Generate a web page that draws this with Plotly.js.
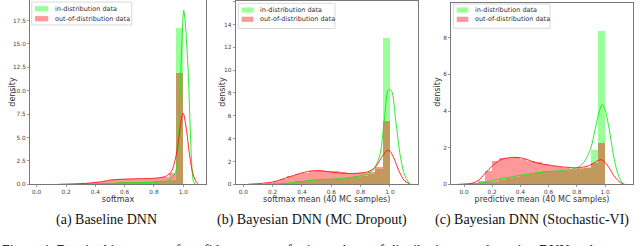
<!DOCTYPE html>
<html>
<head>
<meta charset="utf-8">
<script src="https://cdn.plot.ly/plotly-3.0.1.min.js"></script>
<style>html,body{margin:0;padding:0;background:#fff;}#chart{width:640px;height:246px;}</style>
</head>
<body>
<div id="chart"></div>
<script>
// ---------------- DATA ----------------
const seriesNames = ["in-distribution data", "out-of-distribution data"];
const xTitles = ["softmax", "softmax mean (40 MC samples)", "predictive mean (40 MC samples)"];
const yTitle = "density";
const captions = ["(a) Baseline DNN", "(b) Bayesian DNN (MC Dropout)", "(c) Bayesian DNN (Stochastic-VI)"];
const figureText = "Figure 4: Density histograms of confidence scores for in- and out-of-distribution samples using DNN and";

// (a) Baseline DNN - histogram bin centres and densities
const bins1 = [0.175,0.225,0.275,0.325,0.375,0.425,0.475,0.525,0.575,0.625,0.675,0.725,0.775,0.825,0.875,0.925,0.975];
const inHist1  = [0,0,0,0.05,0.08,0.1,0.12,0.15,0.2,0.2,0.2,0.25,0.25,0.3,0.35,0.5,16.7];
const outHist1 = [0.03,0.05,0.08,0.1,0.15,0.2,0.3,0.5,0.55,0.55,0.6,0.6,0.6,0.65,0.8,1.25,11.9];
const inKdeX1  = [0.28,0.4,0.5,0.6,0.7,0.8,0.88,0.92,0.945,0.955,0.965,0.977,0.99,1.003,1.015,1.025,1.034,1.045,1.055,1.068,1.08];
const inKdeY1  = [0,0.05,0.1,0.15,0.18,0.22,0.35,0.6,1.2,1.9,4,9,15,18.6,17,14.5,11.9,7,3,0.4,0];
const outKdeX1 = [0.15,0.25,0.35,0.45,0.5,0.6,0.7,0.8,0.88,0.92,0.95,0.97,0.99,1.0,1.02,1.04,1.06,1.08,1.1];
const outKdeY1 = [0,0.05,0.12,0.3,0.45,0.55,0.6,0.65,0.85,1.4,3,5,7.2,7.6,6,3.5,1.5,0.5,0.05];

// (b) MC Dropout
const bins2 = [0.075,0.125,0.175,0.225,0.275,0.325,0.375,0.425,0.475,0.525,0.575,0.625,0.675,0.725,0.775,0.825,0.875,0.925,0.975];
const inHist2  = [0,0,0,0.05,0.1,0.15,0.25,0.3,0.35,0.45,0.45,0.45,0.5,0.55,0.6,0.7,0.9,1.3,12.8];
const outHist2 = [0.02,0.05,0.1,0.25,0.45,0.7,0.9,1.0,1.2,1.25,1.2,1.15,1.05,1.0,0.95,0.95,1.05,1.55,5.55];
const inKdeX2  = [0.15,0.3,0.4,0.5,0.6,0.7,0.8,0.88,0.93,0.96,0.99,1.01,1.04,1.07,1.1,1.13];
const inKdeY2  = [0,0.1,0.25,0.4,0.45,0.55,0.75,1.2,2.5,5.5,8.3,8.2,5.5,2.5,0.8,0.1];
const outKdeX2 = [0.03,0.2,0.3,0.4,0.48,0.55,0.65,0.75,0.85,0.9,0.95,0.98,1.0,1.03,1.06,1.1,1.14];
const outKdeY2 = [0,0.2,0.6,1.0,1.2,1.15,1.0,0.95,1.1,1.5,2.5,2.95,2.9,2.2,1.2,0.3,0];

// (c) Stochastic-VI
const bins3 = [0.075,0.125,0.175,0.225,0.275,0.325,0.375,0.425,0.475,0.525,0.575,0.625,0.675,0.725,0.775,0.825,0.875,0.925,0.975];
const inHist3  = [0,0.05,0.1,0.15,0.25,0.35,0.4,0.5,0.55,0.65,0.7,0.7,0.75,0.75,0.8,0.85,0.95,1.87,8.38];
const outHist3 = [0.05,0.2,0.74,1.3,1.45,1.45,1.5,1.4,1.3,1.2,1.1,1.0,0.95,0.9,0.85,0.9,0.9,1.15,2.27];
const inKdeX3  = [0.0,0.1,0.2,0.3,0.4,0.5,0.6,0.7,0.8,0.85,0.9,0.93,0.96,0.98,1.0,1.03,1.06,1.09,1.12,1.14];
const inKdeY3  = [0,0.05,0.2,0.35,0.5,0.6,0.7,0.75,0.9,1.2,2.0,3.0,4.0,4.35,4.1,3.0,1.6,0.6,0.1,0];
const outKdeX3 = [-0.04,0.05,0.1,0.15,0.2,0.25,0.3,0.35,0.4,0.45,0.5,0.6,0.7,0.8,0.88,0.93,0.97,1.0,1.03,1.06,1.1,1.13];
const outKdeY3 = [0,0.05,0.2,0.6,1.0,1.3,1.43,1.47,1.45,1.35,1.2,1.05,0.95,0.9,1.0,1.2,1.35,1.2,0.9,0.5,0.15,0];

const yTicks1 = [0,2.5,5,7.5,10,12.5,15,17.5];
const yTicks2 = [0,2,4,6,8,10,12,14,16];
const yTicks3 = [0,2,4,6,8,10];
const xTicks = [0,0.2,0.4,0.6,0.8,1.0];

// ---------------- STYLE / LAYOUT ----------------
const W = 640, H = 246;
const px = v => v / W;
const py = v => 1 - v / H;
const GREEN_BAR = "rgba(0,255,0,0.4)";
const RED_BAR = "rgba(255,0,0,0.4)";
const GREEN_LINE = "rgba(20,235,20,0.9)";
const RED_LINE = "rgba(255,20,20,0.9)";

const panels = [
  {bins: bins1, inH: inHist1, outH: outHist1, ikx: inKdeX1, iky: inKdeY1, okx: outKdeX1, oky: outKdeY1,
   xd: [30, 206], yTop: 0, xr: [-0.0457, 1.155], yr: [0, 19.69], yt: yTicks1, yfmt: ".1f", ytx: 11.7,
   leg: {x0: 31.7, x1: 131.7, y0: 2, y1: 25, px0: 35, px1: 48.3, tx: 53.3, ty: [8.7, 18.7]}, cap: 106},
  {bins: bins2, inH: inHist2, outH: outHist2, ikx: inKdeX2, iky: inKdeY2, okx: outKdeX2, oky: outKdeY2,
   xd: [235.5, 418], yTop: 1, xr: [-0.053, 1.191], yr: [0, 16.06], yt: yTicks2, yfmt: "d", ytx: 221.7,
   leg: {x0: 238.3, x1: 335, y0: 3.3, y1: 28.5, px0: 241.7, px1: 253.3, tx: 258.3, ty: [10, 19.3]}, cap: 312},
  {bins: bins3, inH: inHist3, outH: outHist3, ikx: inKdeX3, iky: inKdeY3, okx: outKdeX3, oky: outKdeY3,
   xd: [451, 633], yTop: 2.7, xr: [-0.0922, 1.1986], yr: [0, 9.92], yt: yTicks3, yfmt: "d", ytx: 436.7,
   leg: {x0: 453.3, x1: 550, y0: 4, y1: 28.3, px0: 456.7, px1: 468.3, tx: 473.3, ty: [10, 19.3]}, cap: 532}
];

const traces = [];
const layout = {
  width: W, height: H,
  margin: {l: 0, r: 0, t: 0, b: 0},
  paper_bgcolor: "#fff", plot_bgcolor: "#fff",
  showlegend: false,
  barmode: "overlay", bargap: 0,
  font: {family: "DejaVu Sans", color: "#333"},
  shapes: [], annotations: []
};

panels.forEach((p, i) => {
  const n = i + 1;
  const xa = n === 1 ? "x" : "x" + n;
  const ya = n === 1 ? "y" : "y" + n;
  traces.push({type: "bar", x: p.bins, y: p.inH, width: 0.05, xaxis: xa, yaxis: ya,
               name: seriesNames[0], marker: {color: GREEN_BAR, line: {width: 0}}, hoverinfo: "skip"});
  traces.push({type: "scatter", mode: "lines", x: p.ikx, y: p.iky, xaxis: xa, yaxis: ya,
               line: {color: GREEN_LINE, width: 1, shape: "spline", smoothing: 0.8}, hoverinfo: "skip"});
  traces.push({type: "bar", x: p.bins, y: p.outH, width: 0.05, xaxis: xa, yaxis: ya,
               name: seriesNames[1], marker: {color: RED_BAR, line: {width: 0}}, hoverinfo: "skip"});
  traces.push({type: "scatter", mode: "lines", x: p.okx, y: p.oky, xaxis: xa, yaxis: ya,
               line: {color: RED_LINE, width: 1, shape: "spline", smoothing: 0.8}, hoverinfo: "skip"});

  const axX = "xaxis" + (n === 1 ? "" : n);
  const axY = "yaxis" + (n === 1 ? "" : n);
  layout[axX] = {
    domain: [px(p.xd[0]), px(p.xd[1])], range: p.xr, anchor: ya,
    tickvals: xTicks, tickformat: ".1f", ticks: "outside", ticklen: 2, tickwidth: 0.6, tickcolor: "#555",
    tickfont: {size: 5.8, color: "#444"},
    showgrid: false, zeroline: false, showline: true, mirror: true, linecolor: "#777", linewidth: 1,
    title: {text: xTitles[i], font: {size: 8, color: "#333"}, standoff: 1}, automargin: false, fixedrange: true
  };
  layout[axY] = {
    domain: [py(184.3), py(p.yTop)], range: p.yr, anchor: xa,
    tickvals: p.yt, tickformat: p.yfmt, ticks: "outside", ticklen: 2, tickwidth: 0.6, tickcolor: "#555",
    tickfont: {size: 5.8, color: "#444"},
    showgrid: false, zeroline: false, showline: true, mirror: true, linecolor: "#777", linewidth: 1,
    automargin: false, fixedrange: true
  };
  // y-axis title placed precisely
  layout.annotations.push({xref: "paper", yref: "paper", x: px(p.ytx), y: py(92), textangle: -90,
    xanchor: "center", yanchor: "middle", showarrow: false, text: yTitle,
    font: {size: 8, color: "#333", family: "DejaVu Sans"}});

  // legend box (drawn manually to match the matplotlib legend)
  const L = p.leg;
  layout.shapes.push({type: "rect", xref: "paper", yref: "paper", layer: "above",
    x0: px(L.x0), x1: px(L.x1), y0: py(L.y1), y1: py(L.y0),
    fillcolor: "rgba(255,255,255,0.85)", line: {color: "#d0d0d0", width: 0.8}});
  [GREEN_BAR, RED_BAR].forEach((c, k) => {
    layout.shapes.push({type: "rect", xref: "paper", yref: "paper", layer: "above",
      x0: px(L.px0), x1: px(L.px1), y0: py(L.ty[k] + 2.6), y1: py(L.ty[k] - 2.6),
      fillcolor: c, line: {width: 0}});
    layout.annotations.push({xref: "paper", yref: "paper", x: px(L.tx), y: py(L.ty[k]),
      xanchor: "left", yanchor: "middle", showarrow: false, text: seriesNames[k],
      font: {size: 6.5, color: "#333", family: "DejaVu Sans"}});
  });

  layout.annotations.push({xref: "paper", yref: "paper", x: px(p.cap), y: py(220),
    xanchor: "center", yanchor: "middle", showarrow: false, text: captions[i],
    font: {size: 14, color: "#111", family: "Liberation Serif"}});
});

layout.annotations.push({xref: "paper", yref: "paper", x: 0, y: py(250.5), xanchor: "left", yanchor: "middle",
  showarrow: false, text: figureText, font: {size: 14, color: "#111", family: "Liberation Serif"}});

Plotly.newPlot("chart", traces, layout, {staticPlot: true, displayModeBar: false});
</script>
</body>
</html>
